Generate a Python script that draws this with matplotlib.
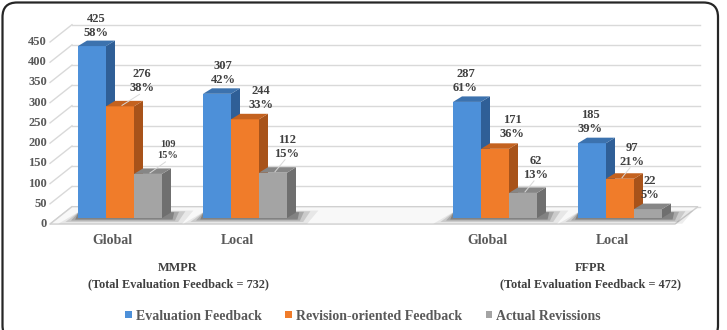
import matplotlib
matplotlib.use("Agg")
import matplotlib.pyplot as plt
from matplotlib.patches import Polygon, FancyBboxPatch, Patch

plt.rcParams['font.family'] = ['Liberation Serif', 'DejaVu Serif']
plt.rcParams['font.weight'] = 'bold'

# ---------------- data ----------------
groups = ["Global", "Local", "Global", "Local"]
sections = ["MMPR\n(Total Evaluation Feedback = 732)", "FFPR\n(Total Evaluation Feedback = 472)"]
series = ["Evaluation Feedback", "Revision-oriented Feedback", "Actual Revissions"]
evaluation = [425, 307, 287, 185]
revision = [276, 244, 171, 97]
actual = [109, 112, 62, 22]
evaluation_pct = [58, 42, 61, 39]
revision_pct = [38, 33, 36, 21]
actual_pct = [15, 15, 13, 5]
yticks = [0, 50, 100, 150, 200, 250, 300, 350, 400, 450]

# ---------------- layout helpers (pixel mapping) ----------------
W, H = 727, 330
XPX = 125.0     # pixels per group unit
X0 = 120.0      # pixel of group 0
VPX = 0.4045    # pixels per value unit
BASE = 218.0    # pixel row of value 0 at bar front


def px2x(px):
    return (px - X0) / XPX


def py2v(py):
    return (BASE - py) / VPX


group_pos = [0, 1, 3, 4]
bw = 28 / XPX
ddx = 9 / XPX
ddy = 5.5 / VPX
back_off = 28
front_off = -15

colors = [
    dict(front="#4d90d9", side="#2f5f97", top="#3c72ae"),
    dict(front="#f07c2a", side="#a8531a", top="#c4621f"),
    dict(front="#a4a4a4", side="#6f6f6f", top="#868686"),
]

fig = plt.figure(figsize=(W / 100, H / 100), dpi=100)
ax = fig.add_axes([0, 0, 1, 1])
ax.set_xlim(px2x(0), px2x(W))
ax.set_ylim(py2v(H), py2v(0))
ax.axis("off")

# back wall grid lines + left diagonal
xl_front, xl_back, xr_back = px2x(50), px2x(72), px2x(700)
for t in yticks:
    ax.plot([xl_back, xr_back], [t + back_off, t + back_off], color="#d9d9d9", lw=1.0, zorder=1)
    ax.plot([xl_front, xl_back], [t + front_off, t + back_off], color="#d9d9d9", lw=1.0, zorder=1)
    ax.text(px2x(47), t + front_off, str(t), ha="right", va="center",
            fontsize=9, color="#595959", fontweight="bold")

# floor
floor = Polygon([(xl_front, front_off), (px2x(675), front_off),
                 (px2x(698), back_off), (xl_back, back_off)],
                closed=True, facecolor="#f8f8f8", edgecolor="#d0d0d0", lw=1.0, zorder=1.5)
ax.add_patch(floor)

# shadows under each group
for gp in group_pos:
    left = gp - 1.5 * bw
    right = gp + 1.5 * bw + ddx
    for grow, alpha in [(14, 0.08), (9, 0.14), (5, 0.2), (2, 0.28)]:
        gx = grow / XPX
        gy = grow / VPX * 0.35
        poly = Polygon([(left - gx * 1.4, -gy - 2), (right + gx * 0.8, -gy - 2),
                        (right + gx * 1.6, ddy + gy * 0.4), (left + gx * 0.2, ddy + gy * 0.4)],
                       closed=True, facecolor="#202020", edgecolor="none", alpha=alpha, zorder=2)
        ax.add_patch(poly)

# bars (front via ax.bar, side/top faces computed from the same values)
all_vals = [evaluation, revision, actual]
all_pct = [evaluation_pct, revision_pct, actual_pct]
z = 3
for gi, gp in enumerate(group_pos):
    for si in range(3):
        v = all_vals[si][gi]
        xc = gp + (si - 1) * bw
        c = colors[si]
        ax.bar(xc, v, width=bw, color=c["front"], edgecolor="none", zorder=z)
        xr = xc + bw / 2
        xlft = xc - bw / 2
        side = Polygon([(xr, 0), (xr + ddx, ddy), (xr + ddx, v + ddy), (xr, v)],
                       closed=True, facecolor=c["side"], edgecolor="none", zorder=z + 0.1)
        top = Polygon([(xlft, v), (xr, v), (xr + ddx, v + ddy), (xlft + ddx, v + ddy)],
                      closed=True, facecolor=c["top"], edgecolor="none", zorder=z + 0.2)
        ax.add_patch(side)
        ax.add_patch(top)
        z += 1

# data labels (offsets in pixels: dx from bar centre, dy above bar top)
label_dx = [[4.5, 21.5, 19.5], [6, 16, 14], [-1.5, 17, 13], [-1.5, 12, 2]]
label_dy = [[13, 18, 18], [14, 14, 19], [14, 15, 18], [14, 17, 14]]
label_fs = [[9, 9, 7.5], [9, 9, 9], [9, 9, 9], [9, 9, 9]]
leaders = {(0, 1), (0, 2), (1, 2), (2, 2), (3, 1)}
for gi, gp in enumerate(group_pos):
    for si in range(3):
        v = all_vals[si][gi]
        xc = gp + (si - 1) * bw
        tx = xc + label_dx[gi][si] / XPX
        ty = v + label_dy[gi][si] / VPX
        fs = label_fs[gi][si]
        gap = 14 if fs >= 9 else 11
        ax.text(tx, ty, f"{all_pct[si][gi]}%", ha="center", va="center",
                fontsize=fs, color="#404040", fontweight="bold", zorder=50)
        ax.text(tx, ty + gap / VPX, f"{v}", ha="center", va="center",
                fontsize=fs, color="#404040", fontweight="bold", zorder=50)
        if (gi, si) in leaders:
            ax.plot([xc + 2 / XPX, tx - 2 / XPX], [v + 1 / VPX, ty - 6 / VPX],
                    color="#d8d8d8", lw=0.7, zorder=49)

# category labels
for gp, g in zip(group_pos, groups):
    ax.text(gp - 8 / XPX, py2v(241), g, ha="center", va="center",
            fontsize=10, color="#595959", fontweight="bold")

# section labels
for xs, s in zip([px2x(178), px2x(590)], sections):
    ax.text(xs, py2v(276), s, ha="center", va="center", fontsize=8.8,
            color="#404040", fontweight="bold", linespacing=1.4)

# legend
handles = [Patch(facecolor=colors[i]["front"], edgecolor="none") for i in range(3)]
fig.legend(handles, series, loc="center", bbox_to_anchor=(363 / W, 1 - 316 / H), ncol=3,
           frameon=False, handlelength=0.5, handleheight=0.45, handletextpad=0.25,
           columnspacing=1.7, prop=dict(size=10, weight="bold"), labelcolor="#595959")

# rounded outer border
border = FancyBboxPatch((2.5 / W, -10 / H), (718 - 2.5) / W, (H - 2.5 + 10) / H,
                        boxstyle="round,pad=0,rounding_size=0.02", transform=fig.transFigure,
                        facecolor="none", edgecolor="#262626", lw=1.6, mutation_aspect=W / H)
fig.patches.append(border)

fig.savefig("out.png", dpi=100)
